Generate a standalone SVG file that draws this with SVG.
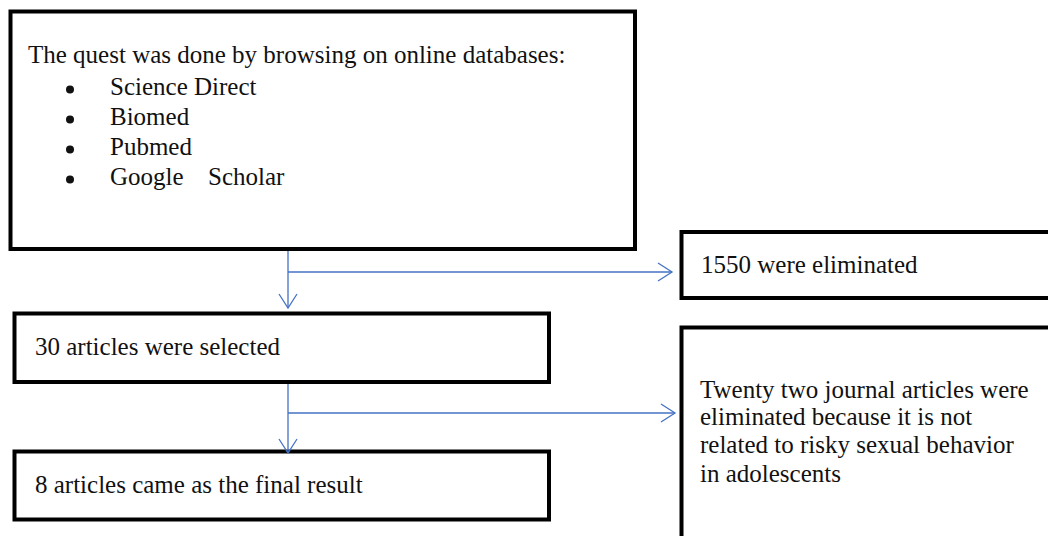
<svg xmlns="http://www.w3.org/2000/svg" width="1048" height="536" viewBox="0 0 1048 536">
<style>
.box{fill:#fff;stroke:#000;stroke-width:4}
.t{font-family:"Liberation Serif","Times New Roman",serif;font-size:25px;fill:#111}
.b{fill:#111}
.c{fill:none;stroke:#4472C4;stroke-width:1.3}
</style>
<defs>
<marker id="ah" markerUnits="userSpaceOnUse" markerWidth="20" markerHeight="22" viewBox="-16 -11 18 22" refX="0" refY="0" orient="auto">
<path d="M-14,-9 L0,0 L-14,9" fill="none" stroke="#4472C4" stroke-width="1.3"/>
</marker>
</defs>
<rect width="1048" height="536" fill="#fff"/>
<g id="n1">
<rect class="box" x="10.5" y="11.5" width="624.5" height="237.5"/>
<text class="t" x="28" y="63">The quest was done by browsing on online databases:</text>
<circle class="b" cx="70" cy="89.5" r="4"/><text class="t" x="110" y="95">Science Direct</text>
<circle class="b" cx="70" cy="119.5" r="4"/><text class="t" x="110" y="125">Biomed</text>
<circle class="b" cx="70" cy="149.5" r="4"/><text class="t" x="110" y="155">Pubmed</text>
<circle class="b" cx="70" cy="179.5" r="4"/><text class="t" x="110" y="185">Google<tspan x="208">Scholar</tspan></text>
</g>
<g id="n2">
<rect class="box" x="14.5" y="313.5" width="534.5" height="68.5"/>
<text class="t" x="35" y="355">30 articles were selected</text>
</g>
<g id="n3">
<rect class="box" x="14.5" y="451.5" width="534.5" height="68"/>
<text class="t" x="35" y="493">8 articles came as the final result</text>
</g>
<g id="n4">
<rect class="box" x="681.5" y="232" width="400" height="66"/>
<text class="t" x="701" y="273">1550 were eliminated</text>
</g>
<g id="n5">
<rect class="box" x="681.5" y="327.5" width="400" height="240"/>
<text class="t" x="700" y="398">Twenty two journal articles were</text>
<text class="t" x="700" y="425">eliminated because it is not</text>
<text class="t" x="700" y="453">related to risky sexual behavior</text>
<text class="t" x="700" y="482">in adolescents</text>
</g>
<g id="connectors">
<path class="c" d="M288,251 L288,308" marker-end="url(#ah)"/>
<path class="c" d="M288,272 L672,272" marker-end="url(#ah)"/>
<path class="c" d="M288,384 L288,453" marker-end="url(#ah)"/>
<path class="c" d="M288,413 L675,413" marker-end="url(#ah)"/>
</g>
</svg>
